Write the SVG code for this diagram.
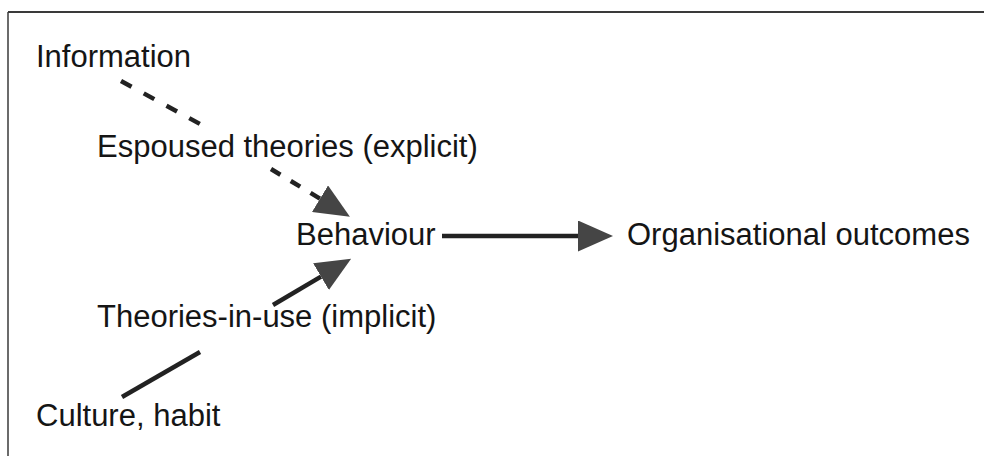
<svg xmlns="http://www.w3.org/2000/svg" width="984" height="456" viewBox="0 0 984 456">
  <style>
    .label { font-family: "Liberation Sans", Arial, sans-serif; font-size: 31px; fill: #151515; }
    .frame { stroke: #3a3a3a; fill: none; }
    .conn { stroke: #222; stroke-width: 4.5; fill: none; stroke-linecap: butt; }
  </style>
  <defs>
    <marker id="arrow" viewBox="0 0 35 31" refX="0" refY="15.5" markerWidth="35" markerHeight="31" markerUnits="userSpaceOnUse" orient="auto">
      <path d="M0,0 L35,15.5 L0,31 Z" fill="#454545"/>
    </marker>
  </defs>
  <rect width="984" height="456" fill="#ffffff"/>

  <!-- frame -->
  <line class="frame" x1="8" y1="12" x2="984" y2="12" stroke-width="2"/>
  <line class="frame" x1="8" y1="12" x2="8" y2="456" stroke-width="1.5" stroke="#555"/>

  <!-- connectors -->
  <g id="connectors">
    <!-- Information -> Behaviour (dashed, passes behind the espoused theories label) -->
    <line class="conn" stroke-dasharray="12 13.9" x1="121" y1="81" x2="200" y2="124"/>
    <line class="conn" stroke-dasharray="11 12.1" x1="271" y1="169" x2="320" y2="198.7" marker-end="url(#arrow)"/>
    <!-- Culture -> Behaviour (solid, passes behind the theories-in-use label) -->
    <line class="conn" x1="122" y1="397" x2="200" y2="352"/>
    <line class="conn" x1="273" y1="305" x2="321" y2="276.6" marker-end="url(#arrow)"/>
    <!-- Behaviour -> Organisational outcomes -->
    <line class="conn" x1="442" y1="236" x2="578" y2="236" marker-end="url(#arrow)"/>
  </g>

  <g id="information"><text class="label" x="36" y="67">Information</text></g>
  <g id="espoused"><text class="label" x="97" y="157">Espoused theories (explicit)</text></g>
  <g id="behaviour"><text class="label" x="296" y="245">Behaviour</text></g>
  <g id="outcomes"><text class="label" x="627" y="245">Organisational outcomes</text></g>
  <g id="theories-in-use"><text class="label" x="97" y="327">Theories-in-use (implicit)</text></g>
  <g id="culture"><text class="label" x="36" y="426">Culture, habit</text></g>
</svg>
